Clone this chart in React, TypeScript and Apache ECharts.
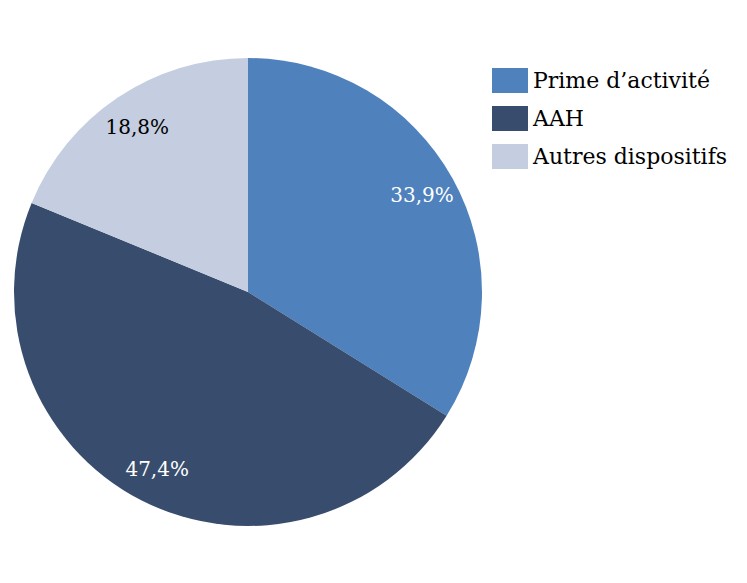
import React, { useEffect, useRef } from "react";
import * as echarts from "echarts";

const categories = ["Prime d\u2019activité", "AAH", "Autres dispositifs"];
const values = [33.9, 47.4, 18.8];
const colors = ["#4F81BD", "#384D6E", "#C4CEE0"];
const labelColors = ["#FFFFFF", "#FFFFFF", "#000000"];

const FONT = "DejaVu Serif";

export default function App() {
  const ref = useRef<HTMLDivElement>(null);
  useEffect(() => {
    if (!ref.current) return;
    const chart = echarts.init(ref.current, null, { renderer: "svg" });
    const fmt = (v: number) => v.toFixed(1).replace(".", ",") + "%";
    chart.setOption({
      animation: false,
      backgroundColor: "#FFFFFF",
      legend: {
        orient: "vertical",
        left: 492,
        top: 68,
        padding: 0,
        icon: "rect",
        itemWidth: 36,
        itemHeight: 25,
        itemGap: 13,
        data: categories,
        textStyle: { fontFamily: FONT, fontSize: 22, lineHeight: 25, color: "#000" },
      },
      series: [
        {
          type: "pie",
          center: [248, 292],
          radius: [0, 234],
          startAngle: 90,
          clockwise: true,
          label: { show: false },
          labelLine: { show: false },
          silent: true,
          data: categories.map((c, i) => ({
            name: c,
            value: values[i],
            itemStyle: { color: colors[i] },
          })),
        },
        {
          type: "pie",
          center: [248, 292],
          radius: [158, 234],
          startAngle: 90,
          clockwise: true,
          silent: true,
          legendHoverLink: false,
          labelLine: { show: false },
          data: categories.map((c, i) => ({
            name: c + " ",
            value: values[i],
            itemStyle: { color: "transparent" },
            label: {
              show: true,
              position: "inside",
              formatter: () => fmt(values[i]),
              color: labelColors[i],
              fontFamily: FONT,
              fontSize: 20,
            },
          })),
        },
      ],
    });
    return () => chart.dispose();
  }, []);
  return (
    <div
      ref={ref}
      style={{ position: "absolute", left: 0, top: 0, width: 747, height: 583 }}
    />
  );
}
